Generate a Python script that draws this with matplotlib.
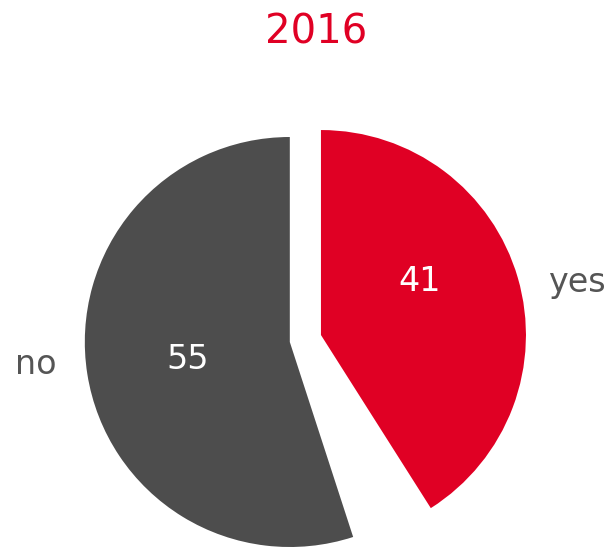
import matplotlib
matplotlib.use("Agg")
import matplotlib.pyplot as plt

# data
labels = ["yes", "", "no"]
values = [41, 4, 55]          # 4 = unanswered share, left blank
colors = ["#E00024", "white", "#4D4D4D"]
title = "2016"

plt.rcParams['font.family'] = ['DejaVu Sans']

fig = plt.figure(figsize=(6.10, 5.47), dpi=100)

# pie centre (px) and radius (px)
cx, cy, R = 305.6, 339.5, 205.0
L = 1.5
W, H = 610.0, 547.0
ax = fig.add_axes([(cx - L * R) / W, (H - cy - L * R) / H, 2 * L * R / W, 2 * L * R / H])

wedges, _ = ax.pie(values, colors=colors, startangle=90, counterclock=False,
                   explode=[0.078, 0, 0.078], radius=1,
                   wedgeprops=dict(linewidth=0, antialiased=True))
wedges[1].set_visible(False)
ax.set_xlim(-L, L)
ax.set_ylim(-L, L)
ax.set_aspect('equal')
ax.axis('off')

# value labels inside the slices
ax.text(0.558, 0.285, str(values[0]), color="white", fontsize=24, ha="center", va="center")
ax.text(-0.574, -0.100, str(values[2]), color="white", fontsize=24, ha="center", va="center")

# category labels outside
ax.text(1.324, 0.276, labels[0], color="#555555", fontsize=24, ha="center", va="center")
ax.text(-1.315, -0.124, labels[2], color="#555555", fontsize=24, ha="center", va="center")

fig.text(316 / W, 1 - 32 / H, title, color="#E00024", fontsize=29, ha="center", va="center")

fig.savefig("out.png", dpi=100)
